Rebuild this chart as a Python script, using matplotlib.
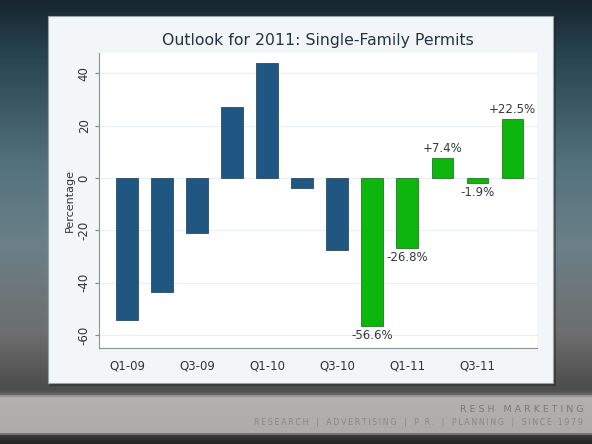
import numpy as np
import matplotlib
matplotlib.use("Agg")
from matplotlib import pyplot as plt
from matplotlib.patches import Rectangle
from matplotlib.colors import LinearSegmentedColormap

quarters = ["Q1-09", "Q2-09", "Q3-09", "Q4-09", "Q1-10", "Q2-10",
            "Q3-10", "Q4-10", "Q1-11", "Q2-11", "Q3-11", "Q4-11"]
actual = [-54.2, -43.6, -21.0, 27.0, 43.9, -4.0, -27.6]
outlook = [-56.6, -26.8, 7.4, -1.9, 22.5]
outlook_labels = ["-56.6%", "-26.8%", "+7.4%", "-1.9%", "+22.5%"]
yticks = [-60, -40, -20, 0, 20, 40]
services = ["RESEARCH", "ADVERTISING", "P.R.", "PLANNING", "SINCE 1979"]


def tracked(s):
    # letter-spaced text using thin spaces
    return "\u2009".join(s)


W, H = 592, 444
fig = plt.figure(figsize=(W / 100, H / 100), dpi=100)

# slide background: dark teal top fading to gray, light banner, dark strip
bg = fig.add_axes([0, 0, 1, 1])
bg.set_axis_off()
stops = [(0.0, "#152630"), (0.12, "#27434e"), (0.38, "#55737d"),
         (0.55, "#6b8088"), (0.75, "#6e6e6e"), (0.88, "#4c4c4c"),
         (0.893, "#6a6a6a"), (0.895, "#b3b0af"), (0.978, "#aeabaa"),
         (0.983, "#3a3a3a"), (1.0, "#262626")]
cmap = LinearSegmentedColormap.from_list("slide", stops)
grad = np.linspace(0, 1, 444)[:, None] * np.ones((1, 592))
bg.imshow(grad, cmap=cmap, aspect="auto", extent=(0, W, H, 0), vmin=0, vmax=1)
bg.set_xlim(0, W)
bg.set_ylim(H, 0)

# chart card with a soft shadow
bg.add_patch(Rectangle((50, 19), 506, 367, facecolor="#202020", alpha=0.45,
                       edgecolor="none"))
bg.add_patch(Rectangle((48, 16), 505, 367, facecolor="#f2f6f8",
                       edgecolor="#9aa4a8", linewidth=0.8))

bg.text(583, 409, "R E S H   M A R K E T I N G", ha="right", va="center",
        fontsize=6.8, color="#7c7978")
bg.text(583, 422, "   |   ".join(tracked(w) for w in services),
        ha="right", va="center", fontsize=5.8, color="#8a8786")

bg.text(318, 40, "Outlook for 2011: Single-Family Permits", ha="center",
        va="center", fontsize=11.3, color="#253444")

ax = fig.add_axes([99 / W, 1 - 348 / H, (537 - 99) / W, (348 - 53) / H])
ax.set_facecolor("white")

x_actual = np.arange(len(actual))
x_outlook = np.arange(len(actual), len(quarters))
ax.bar(x_actual, actual, width=0.62, color="#1f5782", edgecolor="#2a4a66",
       linewidth=0.6, zorder=3)
ax.bar(x_outlook, outlook, width=0.62, color="#0cb60c", edgecolor="#217a21",
       linewidth=0.6, zorder=3)

for xi, v, lab in zip(x_outlook, outlook, outlook_labels):
    if v >= 0:
        ax.text(xi, v + 1.2, lab, ha="center", va="bottom", fontsize=8.5,
                color="#333840")
    else:
        ax.text(xi, v - 1.2, lab, ha="center", va="top", fontsize=8.5,
                color="#333840")

ax.set_xlim(-0.8, 11.7)
ax.set_ylim(-65, 47.7)
ax.set_yticks(yticks)
ax.set_yticklabels([str(t) for t in yticks], rotation=90, va="center",
                   fontsize=8.5, color="#333")
ax.set_xticks(np.arange(0, len(quarters), 2))
ax.set_xticklabels(quarters[::2], fontsize=8.5, color="#333")
ax.tick_params(axis="x", length=0, pad=8)
ax.tick_params(axis="y", length=3, color="#888", pad=3)
ax.grid(axis="y", color="#e8eff2", linewidth=0.8, zorder=0)
ax.set_axisbelow(True)
for s in ("top", "right"):
    ax.spines[s].set_visible(False)
for s in ("left", "bottom"):
    ax.spines[s].set_color("#8a9296")
    ax.spines[s].set_linewidth(0.8)
ax.set_ylabel("Percentage", fontsize=8, color="#333", labelpad=2)

fig.savefig("out.png", dpi=100)
